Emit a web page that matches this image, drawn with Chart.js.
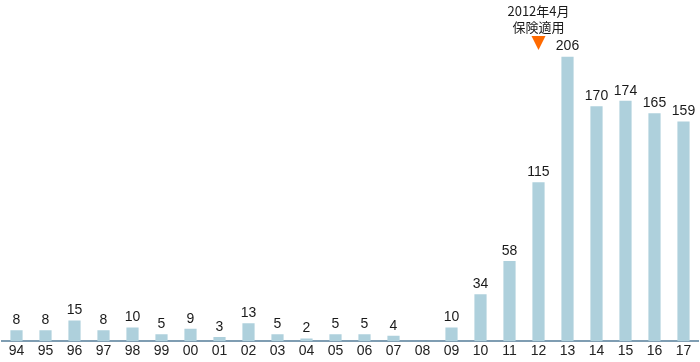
<!DOCTYPE html>
<html>
<head>
<meta charset="utf-8">
<script src="https://cdn.jsdelivr.net/npm/chart.js@4"></script>
<style>
 html, body { margin: 0; padding: 0; background: #fff; }
 #wrap { width: 700px; height: 362px; }
</style>
</head>
<body>
<div id="wrap"><canvas id="cases"></canvas></div>
<script>
var years = ['94','95','96','97','98','99','00','01','02','03','04','05','06','07','08','09','10','11','12','13','14','15','16','17'];
var counts = [8, 8, 15, 8, 10, 5, 9, 3, 13, 5, 2, 5, 5, 4, null, 10, 34, 58, 115, 206, 170, 174, 165, 159];
var noteYear = '12';
var noteText = ['2012年4月', '保険適用'];

// value labels above bars + the insurance marker
var labelsPlugin = {
 id: 'labels',
 afterDatasetsDraw: function(chart) {
  var ctx = chart.ctx;
  var meta = chart.getDatasetMeta(0);
  ctx.save();
  ctx.fillStyle = '#1a1a1a';
  ctx.font = '14px "Liberation Sans", Arial, sans-serif';
  ctx.textAlign = 'center';
  ctx.textBaseline = 'bottom';
  meta.data.forEach(function(bar, i) {
   if (counts[i] == null) return;
   ctx.fillText(counts[i], bar.x, bar.y - 3);
  });

  var x = chart.scales.x.getPixelForValue(years.indexOf(noteYear));
  ctx.font = '13px "Noto Sans CJK JP", "Liberation Sans", sans-serif';
  ctx.textBaseline = 'middle';
  ctx.fillText(noteText[0], x, 11);
  ctx.fillText(noteText[1], x, 27);
  ctx.fillStyle = '#ff6a00';
  ctx.beginPath();
  ctx.moveTo(x - 7, 36);
  ctx.lineTo(x + 7, 36);
  ctx.lineTo(x, 50);
  ctx.closePath();
  ctx.fill();
  ctx.restore();
 }
};

var config = {
 type: 'bar',
 data: {
  labels: years,
  datasets: [{
   data: counts,
   backgroundColor: '#aed0dc',
   categoryPercentage: 1,
   barPercentage: 0.42
  }]
 },
 options: {
  responsive: true,
  maintainAspectRatio: false,
  animation: false,
  layout: { padding: { left: 2, right: 2, top: 0, bottom: 0 } },
  plugins: {
   legend: { display: false },
   tooltip: { enabled: false }
  },
  scales: {
   x: {
    grid: { display: false, drawTicks: false },
    border: { color: '#7f9db2', width: 2 },
    ticks: {
     color: '#222',
     font: { size: 14, family: '"Liberation Sans", Arial, sans-serif' },
     padding: 2,
     autoSkip: false,
     maxRotation: 0
    }
   },
   y: {
    display: false,
    min: 0,
    max: 247
   }
  }
 },
 plugins: [labelsPlugin]
};

window.onload = function() {
 var ctx = document.getElementById('cases').getContext('2d');
 window.myBar = new Chart(ctx, config);
};
</script>
</body>
</html>
